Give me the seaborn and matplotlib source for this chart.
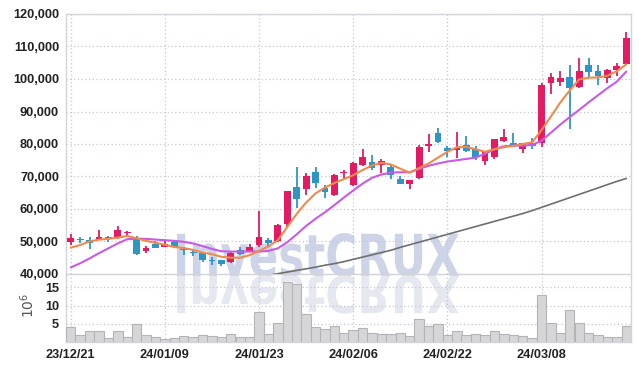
import numpy as np
import pandas as pd
import matplotlib
matplotlib.use('Agg')
import matplotlib.pyplot as plt
import seaborn as sns
from matplotlib.textpath import TextPath
from matplotlib.patches import PathPatch
from matplotlib.font_manager import FontProperties
from matplotlib.transforms import Affine2D
from matplotlib.ticker import FuncFormatter

# ---------------- data (prices in KRW thousands, volume in millions) ----------------
tick_pos = [0, 10, 20, 30, 40, 50]
tick_labels = ["23/12/21", "24/01/09", "24/01/23", "24/02/06", "24/02/22", "24/03/08"]

opens = [49.9, 50.7, 50.5, 50.6, 51.5, 51.3, 52.7, 50.8, 47.2, 49.2,
         48.4, 49.9, 47.6, 46.7, 46.4, 44.2, 44.3, 43.8, 47.4, 46.9,
         48.9, 50.5, 50.0, 55.4, 66.7, 66.2, 71.5, 66.4, 64.3, 71.2,
         67.4, 73.5, 74.6, 73.5, 73.0, 69.2, 67.7, 69.4, 79.4, 83.5,
         78.9, 78.3, 79.7, 78.4, 74.9, 76.1, 81.0, 80.2, 78.6, 80.2,
         80.2, 98.7, 99.2, 100.5, 97.4, 104.2, 102.5, 100.2, 102.8, 104.6]
closes = [51.2, 50.4, 49.4, 51.4, 50.9, 53.5, 53.0, 46.3, 48.1, 48.1,
          49.2, 48.3, 47.4, 46.4, 44.3, 44.0, 43.2, 46.6, 46.3, 48.4,
          51.5, 49.6, 55.0, 65.5, 63.1, 70.2, 67.9, 65.1, 70.5, 71.5,
          74.3, 76.1, 72.5, 74.9, 70.5, 67.7, 68.9, 79.2, 79.9, 80.7,
          77.9, 78.9, 77.9, 75.9, 77.6, 81.5, 82.3, 79.5, 80.2, 79.5,
          98.2, 100.5, 100.2, 97.1, 102.5, 102.3, 100.9, 102.8, 104.0, 112.5]
highs = [52.2, 51.5, 51.3, 53.5, 51.7, 54.8, 53.2, 51.8, 48.7, 50.3,
         50.4, 50.3, 48.4, 47.4, 46.6, 45.1, 44.4, 47.2, 48.4, 49.2,
         59.5, 51.2, 55.3, 65.6, 72.8, 71.0, 73.0, 67.4, 70.8, 72.0,
         74.5, 78.4, 76.6, 75.3, 73.5, 70.2, 69.0, 79.7, 83.0, 84.8,
         79.5, 83.6, 82.5, 79.4, 77.8, 81.6, 84.5, 83.3, 80.3, 81.7,
         98.9, 101.7, 102.6, 104.2, 106.4, 106.4, 104.2, 103.1, 104.8, 114.4]
lows = [48.9, 49.6, 47.6, 50.5, 49.9, 50.9, 51.3, 45.8, 46.4, 48.0,
        48.3, 48.0, 45.8, 45.5, 43.8, 42.8, 42.5, 43.5, 45.8, 46.7,
        48.4, 48.7, 49.9, 54.6, 60.2, 64.3, 66.4, 63.3, 64.1, 69.4,
        67.2, 73.3, 72.0, 71.0, 69.1, 67.6, 66.2, 69.2, 77.6, 80.2,
        76.1, 75.8, 77.6, 75.1, 73.5, 75.3, 80.7, 79.2, 77.1, 78.4,
        79.2, 95.3, 97.9, 84.5, 97.2, 100.5, 98.2, 98.9, 100.9, 104.3]
volumes = [4.0, 2.0, 3.1, 3.1, 1.2, 3.1, 1.4, 5.0, 2.0, 1.4,
           0.9, 1.2, 1.7, 1.4, 2.0, 1.7, 1.4, 2.3, 1.4, 1.4,
           8.3, 2.2, 5.2, 16.6, 16.0, 7.7, 4.1, 3.5, 4.4, 2.4,
           3.3, 3.8, 2.4, 2.2, 2.2, 2.4, 1.6, 6.3, 4.4, 4.9,
           1.9, 3.0, 1.9, 2.2, 1.9, 3.0, 2.2, 1.9, 1.6, 1.1,
           12.9, 5.2, 2.4, 8.8, 5.2, 2.4, 1.9, 1.3, 1.3, 4.4]
ma_short = [48.1, 48.9, 50.0, 50.6, 50.8, 51.2, 51.7, 51.0, 50.2, 49.6,
            49.0, 48.3, 48.0, 47.4, 46.6, 46.1, 45.3, 45.0, 45.0, 45.8,
            47.1, 48.5, 50.4, 54.5, 58.5, 62.0, 64.8, 66.6, 68.0, 69.2,
            70.4, 72.0, 73.4, 74.2, 73.7, 72.4, 71.2, 72.6, 74.0, 75.8,
            77.6, 79.0, 79.1, 78.4, 77.6, 78.4, 79.0, 79.4, 80.0, 80.5,
            84.3, 88.5, 92.8, 96.5, 99.9, 100.4, 100.5, 101.0, 102.4, 104.5]
ma_mid = [42.0, 43.3, 44.8, 46.4, 47.9, 49.4, 50.7, 50.9, 50.8, 50.6,
          50.4, 50.2, 49.9, 49.4, 48.6, 47.7, 47.0, 46.9, 46.9, 46.9,
          46.9, 47.1, 47.9, 49.8, 52.2, 54.8, 57.0, 59.0, 61.2, 63.5,
          65.7, 67.8, 69.6, 70.6, 71.2, 71.3, 71.3, 72.3, 73.3, 74.0,
          74.6, 75.0, 75.4, 75.8, 77.0, 78.4, 79.3, 79.5, 79.5, 79.7,
          81.0, 83.5, 86.0, 88.3, 90.5, 92.8, 95.0, 97.2, 99.2, 102.3]
ma_long_start = 20
ma_long = [39.2, 39.6, 40.1, 40.6, 41.1, 41.6, 42.1, 42.7, 43.2, 43.8,
           44.5, 45.2, 45.9, 46.6, 47.3, 48.2, 49.0, 49.8, 50.6, 51.4,
           52.2, 53.0, 53.8, 54.6, 55.4, 56.2, 57.0, 57.8, 58.6, 59.5,
           60.5, 61.5, 62.5, 63.5, 64.5, 65.5, 66.5, 67.5, 68.5, 69.4]

# ---------------- styling ----------------
UP = "#e31b63"
DOWN = "#2e95c7"
GRID = "#c3c7d3"
SPINE = "#d2d4da"
TXT = "#222222"

sns.set_theme(style="white")
plt.rcParams['font.family'] = ['Liberation Sans', 'DejaVu Sans']

W, H = 639, 370
fig = plt.figure(figsize=(W / 100, H / 100), dpi=100)
fig.patch.set_facecolor("white")
ax = fig.add_axes([66 / W, 96 / H, 565 / W, 260 / H])
axv = fig.add_axes([66 / W, 28 / H, 565 / W, 68 / H], sharex=ax)
for a in (ax, axv):
    a.set_facecolor("none")

n = len(closes)
x = np.arange(n)
df = pd.DataFrame({
    "x": x,
    "open": np.array(opens) * 1000,
    "close": np.array(closes) * 1000,
    "high": np.array(highs) * 1000,
    "low": np.array(lows) * 1000,
    "vol": volumes,
    "ma_s": np.array(ma_short) * 1000,
    "ma_m": np.array(ma_mid) * 1000,
})
df_long = pd.DataFrame({"x": np.arange(ma_long_start, ma_long_start + len(ma_long)),
                        "ma_l": np.array(ma_long) * 1000})

# ---------------- watermark ----------------
fp = FontProperties(family="DejaVu Sans", weight="bold")
tp = TextPath((0, 0), "InvestCRUX", size=100, prop=fp)
bb = tp.get_extents()
x0, x1 = 177, 459
base = H - 276
cap = 43
sx = (x1 - x0) / bb.width
sy = cap / bb.y1
to_fig = Affine2D().scale(1 / W, 1 / H) + fig.transFigure
wm = Affine2D().translate(-bb.x0, 0).scale(sx, sy).translate(x0, base)
wm_ref = Affine2D().translate(-bb.x0, 0).scale(sx, -sy * 0.88).translate(x0, base)
p1 = PathPatch(wm.transform_path(tp), facecolor="#cdd4e7", edgecolor="none",
               transform=to_fig, zorder=-2)
p2 = PathPatch(wm_ref.transform_path(tp), facecolor="#e6e8f0", edgecolor="none",
               transform=to_fig, zorder=-2)
fig.add_artist(p1)
fig.add_artist(p2)

# ---------------- price panel ----------------
colors = [UP if c >= o else DOWN for o, c in zip(df["open"], df["close"])]
bottoms = np.minimum(df["open"], df["close"])
heights = np.maximum(np.abs(df["close"] - df["open"]), 280)
ax.vlines(df["x"], df["low"], df["high"], colors=colors, linewidth=1.3, zorder=3)
ax.bar(df["x"], heights, bottom=bottoms, width=0.72, color=colors, zorder=4, linewidth=0)

sns.lineplot(data=df_long, x="x", y="ma_l", ax=ax, color="#6f6f6f", linewidth=1.2, zorder=5)
sns.lineplot(data=df, x="x", y="ma_m", ax=ax, color="#c95ae6", linewidth=1.5, zorder=6)
sns.lineplot(data=df, x="x", y="ma_s", ax=ax, color="#f08a4b", linewidth=1.5, zorder=7)

ax.set_ylim(40000, 120000)
ax.set_xlim(-0.5, n - 0.5)
ax.set_yticks(np.arange(40000, 120001, 10000))
ax.yaxis.set_major_formatter(FuncFormatter(lambda v, p: f"{int(v):,}"))
ax.set_xticks(tick_pos)
ax.tick_params(axis="x", labelbottom=False, length=0)
ax.tick_params(axis="y", length=0, pad=5, labelsize=9.2, labelcolor=TXT)
ax.set_xlabel("")
ax.set_ylabel("")
ax.grid(True, color=GRID, linestyle=(0, (1, 2)), linewidth=0.9)

# ---------------- volume panel ----------------
sns.barplot(data=df, x="x", y="vol", ax=axv, native_scale=True, width=1.0,
            color="#d6d6d8", edgecolor="#b4b4b8", linewidth=0.8, saturation=1, zorder=3)
axv.set_ylim(0, 18.7)
axv.set_xlim(-0.5, n - 0.5)
axv.set_yticks([5, 10, 15])
axv.set_xticks(tick_pos)
axv.set_xticklabels(tick_labels)
axv.tick_params(axis="both", length=0, labelsize=9.2, labelcolor=TXT)
axv.tick_params(axis="x", pad=5)
axv.tick_params(axis="y", pad=5)
axv.set_xlabel("")
axv.set_ylabel(r"$10^{6}$", color="#555555", fontsize=10)
axv.yaxis.set_label_coords(-0.051, 0.54)
axv.grid(True, color=GRID, linestyle=(0, (1, 2)), linewidth=0.9)

for a in (ax, axv):
    for s in a.spines.values():
        s.set_color(SPINE)
        s.set_linewidth(1.0)
    a.set_axisbelow(True)
axv.spines["top"].set_visible(False)

for lbl in ax.get_yticklabels() + axv.get_yticklabels() + axv.get_xticklabels():
    lbl.set_fontweight("bold")

fig.savefig("out.png", dpi=100, facecolor="white")
